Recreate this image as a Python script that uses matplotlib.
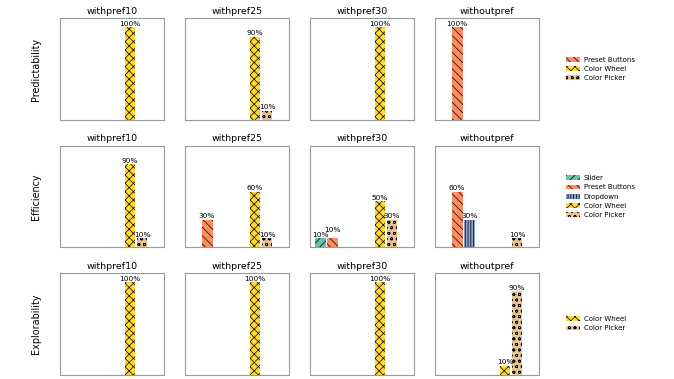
import matplotlib.pyplot as plt
import matplotlib.patches as mpatches
import numpy as np

# categories (Set2 order); the last three never appear with a non-zero share
tools = ['Slider', 'Preset Buttons', 'Dropdown', 'Text Input', 'Sliders HSV',
         'Color Wheel', 'Color Picker', 'Other']
colors = ['#66c2a5', '#fc8d62', '#8da0cb', '#e78ac3', '#a6d854',
          '#ffd92f', '#e5c494', '#b3b3b3']
hatches = ['////', '\\\\\\\\', '||||||', '----', '++++', 'xxxx', 'ooo', '....']

conditions = ['withpref10', 'withpref25', 'withpref30', 'withoutpref']
metrics = ['Predictability', 'Efficiency', 'Explorability']

# share of participants choosing each tool (fraction)
predictability = {
    'withpref10':  [0, 0, 0, 0, 0, 1.0, 0, 0],
    'withpref25':  [0, 0, 0, 0, 0, 0.9, 0.1, 0],
    'withpref30':  [0, 0, 0, 0, 0, 1.0, 0, 0],
    'withoutpref': [0, 1.0, 0, 0, 0, 0, 0, 0],
}
efficiency = {
    'withpref10':  [0, 0, 0, 0, 0, 0.9, 0.1, 0],
    'withpref25':  [0, 0.3, 0, 0, 0, 0.6, 0.1, 0],
    'withpref30':  [0.1, 0.1, 0, 0, 0, 0.5, 0.3, 0],
    'withoutpref': [0, 0.6, 0.3, 0, 0, 0, 0.1, 0],
}
explorability = {
    'withpref10':  [0, 0, 0, 0, 0, 1.0, 0, 0],
    'withpref25':  [0, 0, 0, 0, 0, 1.0, 0, 0],
    'withpref30':  [0, 0, 0, 0, 0, 1.0, 0, 0],
    'withoutpref': [0, 0, 0, 0, 0, 0.1, 0.9, 0],
}
all_data = [predictability, efficiency, explorability]

plt.rcParams['hatch.linewidth'] = 0.5

fig, axes = plt.subplots(3, 4, figsize=(6.74, 3.79), dpi=100)
plt.subplots_adjust(left=0.089, right=0.80, top=0.952, bottom=0.011,
                    wspace=0.2, hspace=0.25)

x = np.arange(len(tools))
for r, data in enumerate(all_data):
    used = set()
    for c, cond in enumerate(conditions):
        ax = axes[r, c]
        vals = data[cond]
        ax.bar(x, vals, width=0.9, color=colors, hatch=hatches,
               edgecolor='black', linewidth=0)
        prev_i, prev_v, prev_raised = None, None, False
        for i, v in enumerate(vals):
            if v <= 0:
                continue
            used.add(i)
            y = v + 0.005
            raised = False
            if prev_i == i - 1 and abs(prev_v - v) < 0.05 and not prev_raised:
                y += 0.055
                raised = True
            ax.text(i, y, f'{int(round(v * 100))}%', ha='center', va='bottom',
                    fontsize=5.3)
            prev_i, prev_v, prev_raised = i, v, raised
        ax.set_ylim(0, 1.1)
        ax.set_xticks([])
        ax.set_yticks([])
        for s in ax.spines.values():
            s.set_color('#999999')
        ax.set_title(cond, fontsize=6.8, pad=3)
        if c == 0:
            ax.set_ylabel(metrics[r], fontsize=6.9, labelpad=14)

    handles = [mpatches.Patch(facecolor=colors[i], hatch=hatches[i],
                              edgecolor='black', linewidth=0, label=tools[i])
               for i in sorted(used)]
    bb = axes[r, 3].get_position()
    fig.legend(handles=handles, loc='center left',
               bbox_to_anchor=(0.83, (bb.y0 + bb.y1) / 2), frameon=False,
               fontsize=5, handlelength=2.0, handleheight=0.7,
               labelspacing=0.45, handletextpad=0.6)

fig.savefig('out.png', dpi=100)
